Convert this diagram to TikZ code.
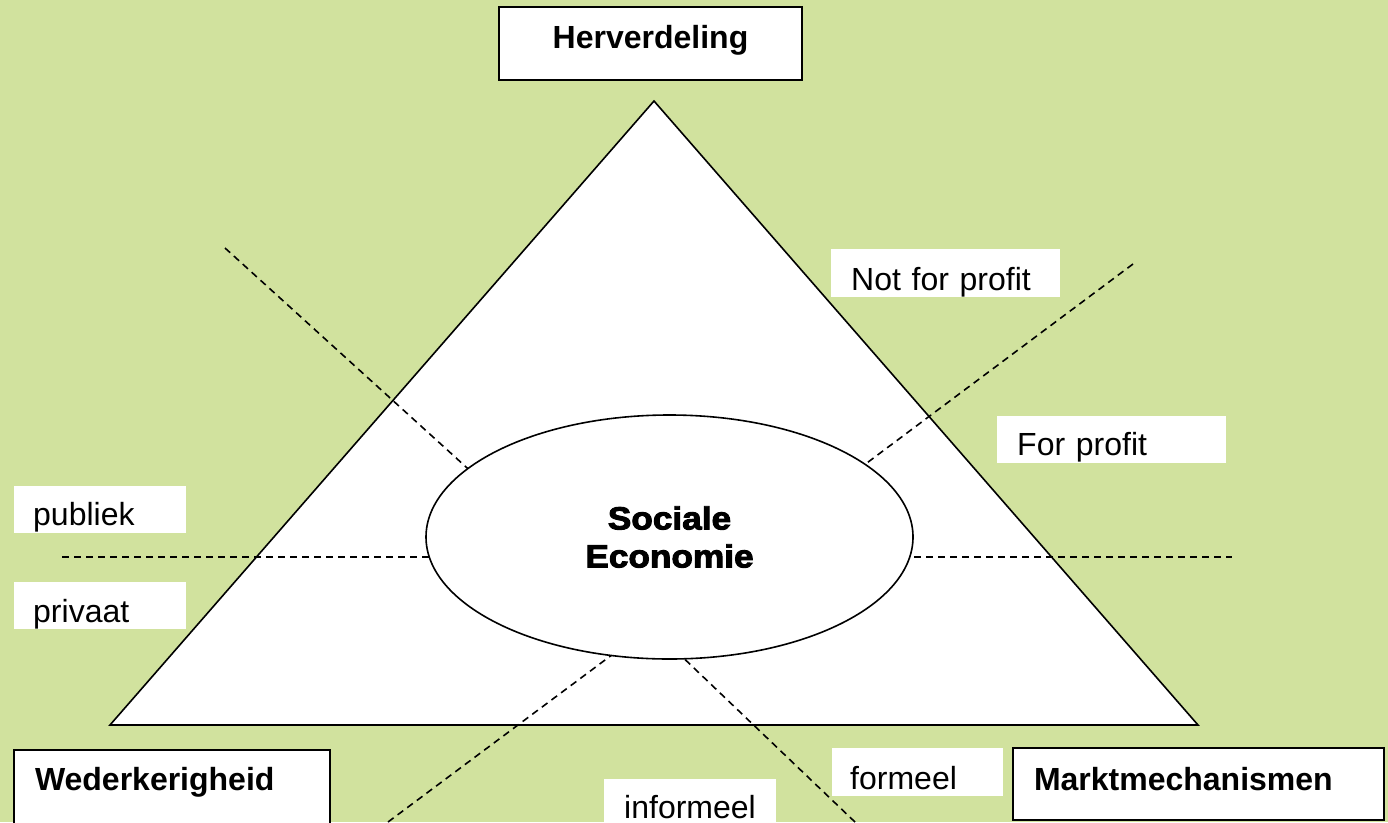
\documentclass[tikz,border=0pt]{standalone}
\usepackage{fontspec}
\setmainfont{Liberation Sans}
\newfontfamily\blackfont[FakeBold=3,FakeStretch=1.1]{Liberation Sans Bold}
\usetikzlibrary{shapes.geometric}
\definecolor{bggreen}{RGB}{209,226,158}
\tikzset{
  lbl/.style={fill=white, inner ysep=0pt, anchor=base west, align=left,
    font=\fontsize{32}{38}\selectfont},
  boldbox/.style={lbl, draw=black, line width=2pt, font=\fontsize{32}{38}\selectfont\bfseries},
  dashline/.style={draw=black, line width=1.6pt, dash pattern=on 7pt off 5pt},
  edge/.style={draw=black, line width=1.6pt}
}
\begin{document}
\begin{tikzpicture}[x=1pt,y=-1pt]
\useasboundingbox (0,0) rectangle (1388,822);
\clip (0,0) rectangle (1388,822);
\fill[bggreen] (0,0) rectangle (1388,822);
% triangle
\coordinate (apex) at (654,101);
\coordinate (bl) at (110,725);
\coordinate (br) at (1198,725);
\filldraw[fill=white, edge, line join=miter] (apex) -- (bl) -- (br) -- cycle;
% dashed lines
\coordinate (ulo) at (225,248);  \coordinate (uli) at (520,516);
\coordinate (uro) at (1133,264); \coordinate (uri) at (820,498);
\coordinate (llo) at (388,822);  \coordinate (lli) at (664,616);
\coordinate (lro) at (855,822);  \coordinate (lri) at (650,626);
\coordinate (hl) at (62,557);    \coordinate (hr) at (1232,557);
\draw[dashline] (ulo) -- (uli);
\draw[dashline] (uro) -- (uri);
\draw[dashline] (llo) -- (lli);
\draw[dashline] (lro) -- (lri);
\draw[dashline] (hl) -- (hr);
% ellipse
\node (se) [ellipse, draw=black, line width=1.6pt, fill=white, minimum width=487pt, minimum height=244pt, inner sep=0pt, align=center, font=\fontsize{32}{38}\selectfont\blackfont] at (669.5,537) {Sociale\\Economie};
% top box
\node (herv) [draw=black, line width=2pt, fill=white, anchor=base, inner sep=0pt, text width=303pt, align=center, text height=41pt, text depth=32pt, font=\fontsize{32}{38}\selectfont\bfseries] at (650.5,48) {Herverdeling};
% labels
\node (nfp) [lbl, inner xsep=20pt, text width=189pt, text height=41pt, text depth=7pt] at (831,290) {Not for profit};
\node (fp) [lbl, inner xsep=20pt, text width=189pt, text height=39pt, text depth=8pt] at (997,455) {For profit};
\node (pub) [lbl, inner xsep=19pt, text width=134pt, text height=39pt, text depth=8pt] at (14,525) {publiek};
\node (priv) [lbl, inner xsep=19pt, text width=134pt, text height=40pt, text depth=7pt] at (14,622) {privaat};
\node (form) [lbl, inner xsep=18pt, text width=135pt, text height=41pt, text depth=7pt] at (832,789) {formeel};
\node (inf) [lbl, inner xsep=20pt, text width=132pt, text height=39pt, text depth=20pt] at (604,818) {informeel};
\node (wed) [boldbox, inner xsep=21pt, text width=274pt, text height=40pt, text depth=50pt] at (13,790) {Wederkerigheid};
\node (markt) [boldbox, inner xsep=21pt, text width=329pt, text height=42pt, text depth=30pt] at (1012,790) {Marktmechanismen};
\end{tikzpicture}
\end{document}
